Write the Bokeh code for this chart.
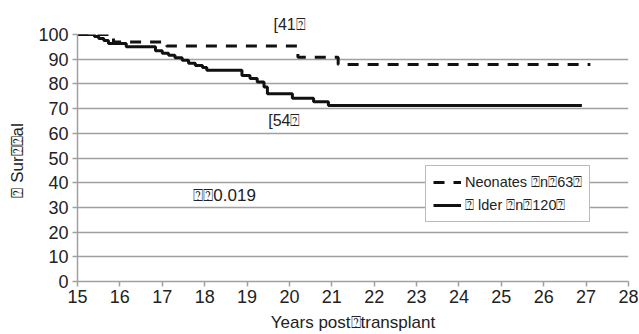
from bokeh.plotting import figure
from bokeh.models import Label, Range1d, FixedTicker, Legend, LegendItem
from bokeh.embed import file_html
from bokeh.resources import INLINE

Q = "\u2370"

# Neonates (dashed) Kaplan-Meier steps
neo_t = [15.0, 15.85, 17.1, 20.2, 21.15, 27.1]
neo_s = [100.0, 97.0, 95.3, 90.8, 87.9, 87.9]

# Older (solid) Kaplan-Meier steps
old_t = [15.0, 15.4, 15.5, 15.62, 15.73, 16.15, 16.84, 17.0, 17.15, 17.3, 17.47, 17.62,
         17.78, 17.95, 18.05, 18.88, 19.07, 19.24, 19.4, 19.48, 20.07, 20.57, 20.92, 26.9]
old_s = [100.0, 99.2, 98.4, 97.6, 96.4, 95.0, 93.4, 92.4, 91.6, 90.6, 89.6, 88.4,
         87.4, 86.6, 85.5, 83.4, 82.2, 80.8, 78.7, 76.0, 74.2, 72.8, 71.3, 71.3]

x_ticks = list(range(15, 29))
y_ticks = list(range(0, 101, 10))

FONT = "Liberation Sans"
TXT = "#222222"

p = figure(width=639, height=334, output_backend="svg", toolbar_location=None,
           x_range=Range1d(15, 28), y_range=Range1d(0, 100),
           min_border_left=77, min_border_right=11, min_border_top=34, min_border_bottom=53)
p.outline_line_color = None
p.background_fill_color = "white"
p.border_fill_color = "white"

p.title.text = "[41" + Q
p.title.align = "left"
p.title.offset = 196
p.title.text_font = FONT
p.title.text_font_size = "16px"
p.title.text_font_style = "normal"
p.title.text_color = TXT
p.title.standoff = 3

p.xgrid.grid_line_color = None
p.ygrid.grid_line_color = "#a0a0a0"
p.ygrid.grid_line_width = 1.5

p.xaxis.ticker = FixedTicker(ticks=x_ticks)
p.yaxis.ticker = FixedTicker(ticks=y_ticks)
for ax in (p.xaxis[0], p.yaxis[0]):
    ax.axis_line_color = "#a0a0a0"
    ax.axis_line_width = 1.5
    ax.major_tick_line_color = "#a0a0a0"
    ax.major_tick_line_width = 1.5
    ax.major_tick_out = 5
    ax.major_tick_in = 0
    ax.minor_tick_line_color = None
    ax.major_label_text_font = FONT
    ax.major_label_text_font_size = "18px"
    ax.major_label_text_color = TXT
    ax.axis_label_text_font = FONT
    ax.axis_label_text_font_size = "17px"
    ax.axis_label_text_font_style = "normal"
    ax.axis_label_text_color = TXT

p.xaxis.axis_label = "Years post" + Q + "transplant"
p.yaxis.axis_label = Q + "  Sur" + Q + Q + "al"
p.xaxis.major_label_standoff = 3
p.yaxis.major_label_standoff = 4
p.xaxis.axis_label_standoff = 7
p.yaxis.axis_label_standoff = 8

r_neo = p.step(neo_t, neo_s, mode="after", line_color="#111111", line_width=3, line_dash="11 9")
r_old = p.step(old_t, old_s, mode="after", line_color="#111111", line_width=3)

legend = Legend(items=[LegendItem(label="Neonates " + Q + "n" + Q + "63" + Q, renderers=[r_neo]),
                       LegendItem(label=Q + " lder " + Q + "n" + Q + "120" + Q, renderers=[r_old])],
                location=(348, 59))
legend.label_text_font = FONT
legend.label_text_font_size = "14.5px"
legend.label_text_color = TXT
legend.border_line_color = "#777777"
legend.border_line_width = 1
legend.glyph_width = 28
legend.glyph_height = 18
legend.spacing = 5
legend.padding = 7
legend.margin = 0
legend.label_standoff = 4
legend.background_fill_alpha = 1
p.add_layout(legend, "center")

for txt, x, y, fs in [("[54" + Q, 19.88, 65.2, "16px"),
                      (Q + Q + "0.019", 18.47, 34.8, "17px")]:
    p.add_layout(Label(x=x, y=y, text=txt, text_font=FONT, text_font_size=fs,
                       text_color=TXT, text_baseline="middle", text_align="center"))

open("out.html", "w").write(file_html(p, INLINE))
